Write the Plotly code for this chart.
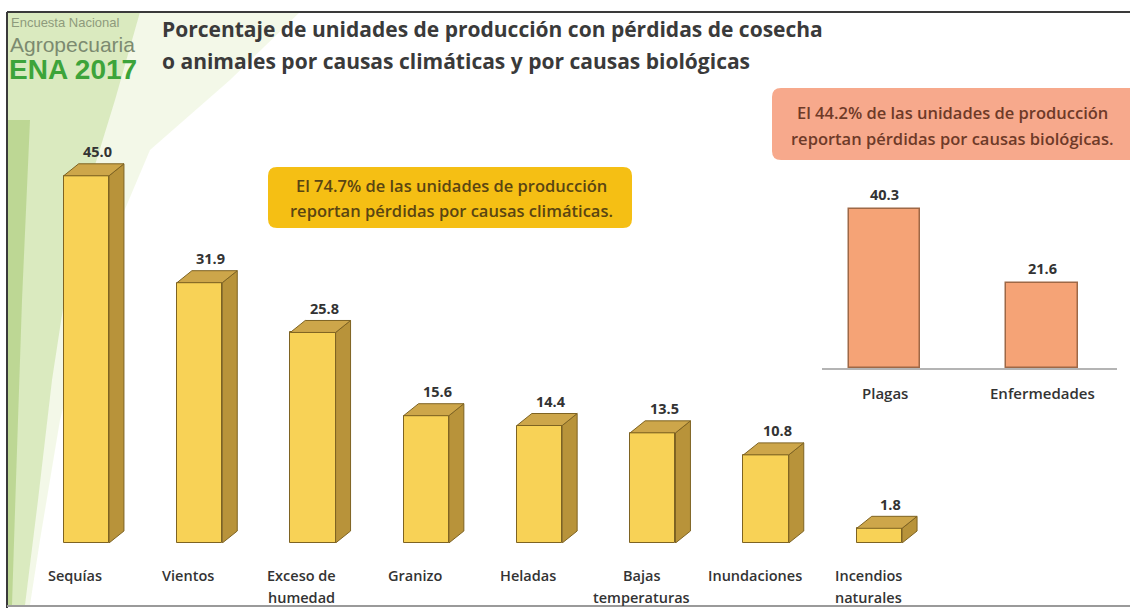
import plotly.graph_objects as go

# ---------------- data ----------------
clim_categories = ["Sequías", "Vientos", "Exceso de<br>humedad", "Granizo", "Heladas",
                   "Bajas<br>temperaturas", "Inundaciones", "Incendios<br>naturales"]
clim_values = [45.0, 31.9, 25.8, 15.6, 14.4, 13.5, 10.8, 1.8]
bio_categories = ["Plagas", "Enfermedades"]
bio_values = [40.3, 21.6]
title_lines = ["Porcentaje de unidades de producción con pérdidas de cosecha",
               "o animales por causas climáticas y por causas biológicas"]
clim_box_lines = ["El 74.7% de las unidades de producción",
                  "reportan pérdidas por causas climáticas."]
bio_box_lines = ["El 44.2% de las unidades de producción",
                 "reportan pérdidas por causas biológicas."]
logo_lines = ["Encuesta Nacional", "Agropecuaria", "ENA 2017"]

# ---------------- helpers ----------------
W, H = 1130, 608
def px(x):
    return x / W
def py(y):
    return 1 - y / H

def rounded_rect(x0, y0, x1, y1, r):
    pts = []
    pts.append(f"M {px(x0 + r)},{py(y0)}")
    pts.append(f"L {px(x1 - r)},{py(y0)}")
    pts.append(f"Q {px(x1)},{py(y0)} {px(x1)},{py(y0 + r)}")
    pts.append(f"L {px(x1)},{py(y1 - r)}")
    pts.append(f"Q {px(x1)},{py(y1)} {px(x1 - r)},{py(y1)}")
    pts.append(f"L {px(x0 + r)},{py(y1)}")
    pts.append(f"Q {px(x0)},{py(y1)} {px(x0)},{py(y1 - r)}")
    pts.append(f"L {px(x0)},{py(y0 + r)}")
    pts.append(f"Q {px(x0)},{py(y0)} {px(x0 + r)},{py(y0)}")
    pts.append("Z")
    return " ".join(pts)

def poly(points):
    return "M " + " L ".join(f"{px(x)},{py(y)}" for x, y in points) + " Z"

FONT = "Open Sans"
FRONT = "#F8D256"
SIDE = "#B8933A"
TOP = "#CDA64A"
EDGE = "#7E6322"

bar_w = 0.4
bar_off = -0.1
depth_x = 0.132
depth_y = 1.47

fig = go.Figure()

fig.add_trace(go.Bar(
    x=list(range(len(clim_values))), y=clim_values,
    width=bar_w, offset=bar_off,
    marker=dict(color=FRONT, line=dict(color=EDGE, width=1)),
    xaxis="x", yaxis="y", hoverinfo="skip", showlegend=False,
))

fig.add_trace(go.Bar(
    x=list(range(len(bio_values))), y=bio_values,
    width=0.457,
    marker=dict(color="#F5A376", line=dict(color="#9E6846", width=1.5)),
    xaxis="x2", yaxis="y2", hoverinfo="skip", showlegend=False,
))

shapes = []
# background decoration
shapes.append(dict(type="path", xref="paper", yref="paper", layer="below",
                   path=poly([(7, 12), (300, 12), (230, 80), (150, 150), (95, 280),
                              (60, 420), (40, 540), (30, 605), (7, 605)]),
                   fillcolor="rgba(228,240,205,0.45)", line=dict(width=0)))
shapes.append(dict(type="path", xref="paper", yref="paper", layer="below",
                   path=poly([(7, 12), (140, 12), (115, 100), (75, 230), (52, 380),
                              (38, 500), (25, 605), (7, 605)]),
                   fillcolor="rgba(180,212,130,0.40)", line=dict(width=0)))
shapes.append(dict(type="path", xref="paper", yref="paper", layer="below",
                   path=poly([(7, 120), (30, 120), (22, 300), (16, 480), (12, 605), (7, 605)]),
                   fillcolor="rgba(145,188,85,0.40)", line=dict(width=0)))

# frame
shapes.append(dict(type="line", xref="paper", yref="paper", x0=px(7), x1=1, y0=py(12), y1=py(12),
                   line=dict(color="#3a3a3a", width=2)))
shapes.append(dict(type="line", xref="paper", yref="paper", x0=px(7), x1=px(7), y0=py(12), y1=0,
                   line=dict(color="#3a3a3a", width=2)))
shapes.append(dict(type="line", xref="paper", yref="paper", x0=px(7), x1=1, y0=py(606), y1=py(606),
                   line=dict(color="#9a9a9a", width=2)))

# 3D faces for climatic bars
for i, v in enumerate(clim_values):
    x0 = i + bar_off
    x1 = x0 + bar_w
    side = (f"M {x1},0 L {x1 + depth_x},{depth_y} L {x1 + depth_x},{v + depth_y} "
            f"L {x1},{v} Z")
    top = (f"M {x0},{v} L {x0 + depth_x},{v + depth_y} L {x1 + depth_x},{v + depth_y} "
           f"L {x1},{v} Z")
    shapes.append(dict(type="path", xref="x", yref="y", path=side,
                       fillcolor=SIDE, line=dict(color=EDGE, width=1)))
    shapes.append(dict(type="path", xref="x", yref="y", path=top,
                       fillcolor=TOP, line=dict(color=EDGE, width=1)))

# callout boxes
shapes.append(dict(type="path", xref="paper", yref="paper", layer="below",
                   path=rounded_rect(268, 167, 632, 228, 9),
                   fillcolor="#F5BF14", line=dict(width=0)))
shapes.append(dict(type="path", xref="paper", yref="paper", layer="below",
                   path=rounded_rect(772, 88, 1140, 160, 9),
                   fillcolor="#F7A98C", line=dict(width=0)))

annotations = []
# title
for k, line in enumerate(title_lines):
    annotations.append(dict(xref="paper", yref="paper", x=px(160), y=py(29 + 32 * k),
                            xanchor="left", yanchor="middle", showarrow=False, text=line,
                            font=dict(family=FONT, size=21, color="#3a3a3a", weight="bold")))
# logo
annotations.append(dict(xref="paper", yref="paper", x=px(9), y=py(22), xanchor="left",
                        yanchor="middle", showarrow=False, text=logo_lines[0],
                        font=dict(family="Liberation Sans", size=13, color="#8e9a7c")))
annotations.append(dict(xref="paper", yref="paper", x=px(8), y=py(44), xanchor="left",
                        yanchor="middle", showarrow=False, text=logo_lines[1],
                        font=dict(family="Liberation Sans", size=21, color="#7c8a70")))
annotations.append(dict(xref="paper", yref="paper", x=px(7), y=py(70), xanchor="left",
                        yanchor="middle", showarrow=False, text=logo_lines[2],
                        font=dict(family="Liberation Sans", size=28, color="#3da43a",
                                  weight="bold")))

# box texts
for k, line in enumerate(clim_box_lines):
    annotations.append(dict(xref="paper", yref="paper", x=px(451), y=py(185 + 25 * k),
                            xanchor="center", yanchor="middle", showarrow=False, text=line,
                            font=dict(family=FONT, size=16.5, color="#5a4512", weight=600)))
for k, line in enumerate(bio_box_lines):
    annotations.append(dict(xref="paper", yref="paper", x=px(952), y=py(113 + 25 * k),
                            xanchor="center", yanchor="middle", showarrow=False, text=line,
                            font=dict(family=FONT, size=16.5, color="#6e3a28", weight=600)))

# value labels
for i, v in enumerate(clim_values):
    annotations.append(dict(xref="x", yref="y", x=i + bar_off + bar_w / 2 + 0.1,
                            y=v + depth_y, yshift=12, xanchor="center", yanchor="middle",
                            showarrow=False, text=f"{v:.1f}",
                            font=dict(family=FONT, size=14.5, color="#333333", weight="bold")))
for i, v in enumerate(bio_values):
    annotations.append(dict(xref="x2", yref="y2", x=i, y=v, yshift=14,
                            xanchor="center", yanchor="middle", showarrow=False,
                            text=f"{v:.1f}",
                            font=dict(family=FONT, size=14.5, color="#333333", weight="bold")))

# category labels
for i, lab in enumerate(clim_categories):
    for k, line in enumerate(lab.split("<br>")):
        annotations.append(dict(xref="x", yref="paper", x=i, y=py(575 + 22 * k),
                                xanchor="center", yanchor="middle", showarrow=False,
                                text=line,
                                font=dict(family=FONT, size=14.5, color="#333333", weight=600)))
for i, lab in enumerate(bio_categories):
    annotations.append(dict(xref="x2", yref="paper", x=i, y=py(393),
                            xanchor="center", yanchor="middle", showarrow=False, text=lab,
                            font=dict(family=FONT, size=15, color="#333333", weight=600)))

fig.update_layout(
    width=W, height=H,
    margin=dict(l=0, r=0, t=0, b=0),
    paper_bgcolor="white", plot_bgcolor="rgba(0,0,0,0)",
    showlegend=False,
    bargap=0,
    xaxis=dict(domain=[0, 1], range=[-75 / 113.3, (W - 75) / 113.3], visible=False,
               anchor="y", fixedrange=True),
    yaxis=dict(domain=[1 - 543 / H, 1], range=[0, 543 / 8.16], visible=False,
               anchor="x", fixedrange=True),
    xaxis2=dict(domain=[px(822), px(1117)],
                range=[(822 - 884.5) / 157.5, (1117 - 884.5) / 157.5],
                anchor="y2", showline=True, linecolor="#b4b4b4", linewidth=1.5,
                showticklabels=False, showgrid=False, zeroline=False, ticks="",
                fixedrange=True),
    yaxis2=dict(domain=[1 - 368 / H, 1 - 170 / H], range=[0, 198 / 3.95], visible=False,
                anchor="x2", fixedrange=True),
    shapes=shapes,
    annotations=annotations,
)

fig.write_html("out.html", config={"displayModeBar": False})
